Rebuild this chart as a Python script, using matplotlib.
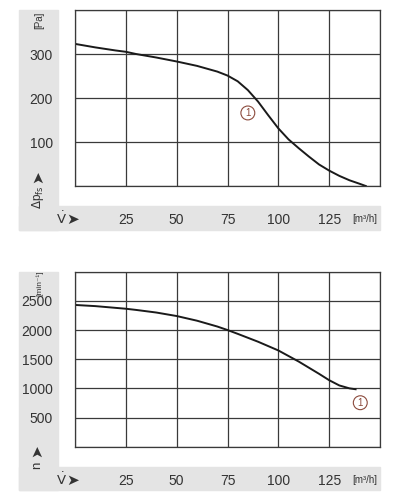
import numpy as np
import matplotlib
matplotlib.use('Agg')
import matplotlib.pyplot as plt
from matplotlib.patches import Rectangle

plt.rcParams['font.family'] = ['Liberation Sans', 'DejaVu Sans']

# Pressure curve (top): airflow [m3/h] vs static pressure [Pa]
flow_p = [0, 10, 20, 25, 30, 40, 50, 60, 70, 75, 80, 85, 90, 95, 100,
          105, 110, 115, 120, 125, 130, 135, 140, 143]
pressure = [323, 315, 308, 305, 300, 292, 283, 273, 260, 251, 238, 218, 192,
            161, 131, 106, 86, 67, 49, 35, 23, 13, 5, 0]

# Speed curve (bottom): airflow [m3/h] vs speed [1/min]
flow_n = [0, 10, 20, 25, 30, 40, 50, 60, 70, 75, 80, 90, 100, 110, 120,
          125, 130, 135, 138]
speed = [2430, 2410, 2380, 2365, 2345, 2300, 2240, 2160, 2060, 2000, 1935,
         1800, 1650, 1460, 1250, 1140, 1050, 1000, 985]

x_ticks = [25, 50, 75, 100, 125]
p_ticks = [100, 200, 300]
n_ticks = [500, 1000, 1500, 2000, 2500]

W, H = 400, 500
fig = plt.figure(figsize=(4, 5), dpi=100)

grey = '#e4e4e4'
grid_c = '#3a3a3a'
mark_c = '#8b4a3c'
tc = '#333333'


def px(x, y):
    # pixel coords (top-left origin) -> figure fraction
    return x / W, 1 - y / H


def add_panel(top, bottom, band_top):
    # L-shaped grey background behind the tick labels
    x0, y0 = px(19, bottom)
    fig.patches.append(Rectangle((x0, y0), (58 - 19) / W, (bottom - top) / H,
                                 transform=fig.transFigure, color=grey, zorder=-2))
    fig.patches.append(Rectangle((x0, y0), (380 - 19) / W, (bottom - band_top) / H,
                                 transform=fig.transFigure, color=grey, zorder=-2))


def style(ax, ymax, yticks):
    ax.set_xlim(0, 150)
    ax.set_ylim(0, ymax)
    ax.set_xticks(np.arange(0, 151, 25))
    ax.set_yticks(np.linspace(0, ymax, len(yticks) + 2))
    ax.set_xticklabels([''] + [str(t) for t in x_ticks] + [''])
    ax.set_yticklabels([''] + [str(t) for t in yticks] + [''])
    ax.grid(True, color=grid_c, lw=0.9)
    ax.tick_params(length=0, labelsize=10, colors=tc)
    ax.tick_params(axis='x', pad=19.5)
    ax.tick_params(axis='y', pad=16)
    for s in ax.spines.values():
        s.set_color(grid_c)
        s.set_linewidth(0.9)
    ax.set_facecolor('white')


def flow_caption(y):
    fig.text(*px(61, y), r'$\dot{\mathsf{V}}$', ha='center', va='center', fontsize=9.5, color=tc)
    fig.text(*px(66, y), '➤', ha='left', va='center', fontsize=11, color=tc,
             family='DejaVu Sans')
    fig.text(*px(365, y), '[m³/h]', ha='center', va='center', fontsize=7, color=tc)


# top chart
add_panel(10, 230, 206)
ax1 = fig.add_axes([75 / W, 1 - 186 / H, 305 / W, 176 / H])
style(ax1, 400, p_ticks)
ax1.plot(flow_p, pressure, color='#1a1a1a', lw=1.4)
ax1.text(85, 166, '1', ha='center', va='center', fontsize=7, color=mark_c,
         bbox=dict(boxstyle='circle,pad=0.2', fc='white', ec=mark_c, lw=0.8))

# bottom chart
add_panel(271.7, 490, 466.7)
ax2 = fig.add_axes([75 / W, 1 - 446.7 / H, 305 / W, 175 / H])
style(ax2, 3000, n_ticks)
ax2.plot(flow_n, speed, color='#1a1a1a', lw=1.4)
ax2.text(140.3, 754, '1', ha='center', va='center', fontsize=7, color=mark_c,
         bbox=dict(boxstyle='circle,pad=0.2', fc='white', ec=mark_c, lw=0.8))

# axis captions
fig.text(*px(39, 20), '[Pa]', rotation=90, ha='center', va='center', fontsize=7, color=tc)
fig.text(*px(38, 177), '➤', rotation=90, ha='center', va='center', fontsize=11,
         color=tc, family='DejaVu Sans')
fig.text(*px(38, 197), r'$\Delta$p$_{\mathsf{fs}}$', rotation=90, ha='center', va='center',
         fontsize=8.5, color=tc)
flow_caption(219)

fig.text(*px(40, 283), '[min⁻¹]', rotation=90, ha='center', va='center',
         fontsize=6, color=tc)
fig.text(*px(37, 451), '➤', rotation=90, ha='center', va='center', fontsize=11,
         color=tc, family='DejaVu Sans')
fig.text(*px(37, 465), 'n', rotation=90, ha='center', va='center', fontsize=9.5, color=tc)
flow_caption(480)

fig.savefig('out.png', dpi=100, facecolor='white')
